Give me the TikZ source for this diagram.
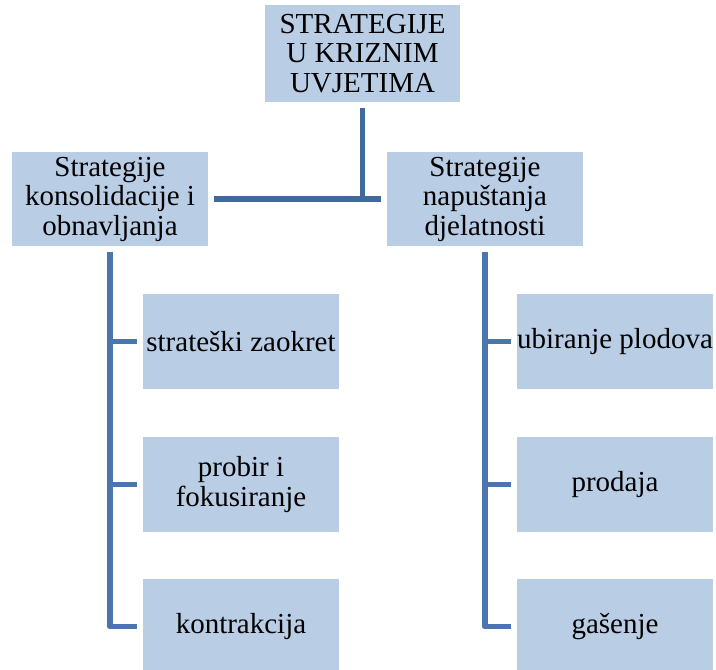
\documentclass[tikz,border=0pt]{standalone}
\usepackage{fontspec}
\setmainfont{Liberation Serif}
\begin{document}
\begin{tikzpicture}[x=1pt,y=-1pt,
  box/.style={fill=boxfill, draw=none, minimum width=196pt, minimum height=95pt,
    inner sep=0pt, outer sep=6pt, align=center,
    font=\fontsize{29}{29.5}\selectfont},
  topconn/.style={draw=topline, line width=5.7pt},
  spine/.style={draw=spineline, line width=5.7pt, line join=round}]
\definecolor{boxfill}{HTML}{B9CDE5}
\definecolor{topline}{HTML}{41699B}
\definecolor{spineline}{HTML}{4A76AD}
\useasboundingbox (0,0) rectangle (716,670);
\begin{scope}
\clip (0,0) rectangle (716,670);
\node[box, minimum width=195pt, minimum height=97pt] (top) at (362.5,53.5) {STRATEGIJE\\U KRIZNIM\\UVJETIMA};
\node[box, minimum height=94pt] (left) at (110,199) {Strategije\\konsolidacije i\\obnavljanja};
\node[box, minimum height=94pt] (right) at (485,199) {Strategije\\napuštanja\\djelatnosti};
\node[box] (l1) at (241,341.5) {strateški zaokret};
\node[box] (l2) at (241,484.5) {probir i\\fokusiranje};
\node[box] (l3) at (241,626.5) {kontrakcija};
\node[box] (r1) at (615,341.5) {ubiranje plodova};
\node[box] (r2) at (615,484.5) {prodaja};
\node[box] (r3) at (615,626.5) {gašenje};
\end{scope}
\draw[topconn] (top.south) -- (top.south |- left.east);
\draw[topconn] (left.east) -- (right.west);
\draw[spine] (left.south) |- (l3.west);
\draw[spine] (left.south |- l1.west) -- (l1.west);
\draw[spine] (left.south |- l2.west) -- (l2.west);
\draw[spine] (right.south) |- (r3.west);
\draw[spine] (right.south |- r1.west) -- (r1.west);
\draw[spine] (right.south |- r2.west) -- (r2.west);
\end{tikzpicture}
\end{document}
